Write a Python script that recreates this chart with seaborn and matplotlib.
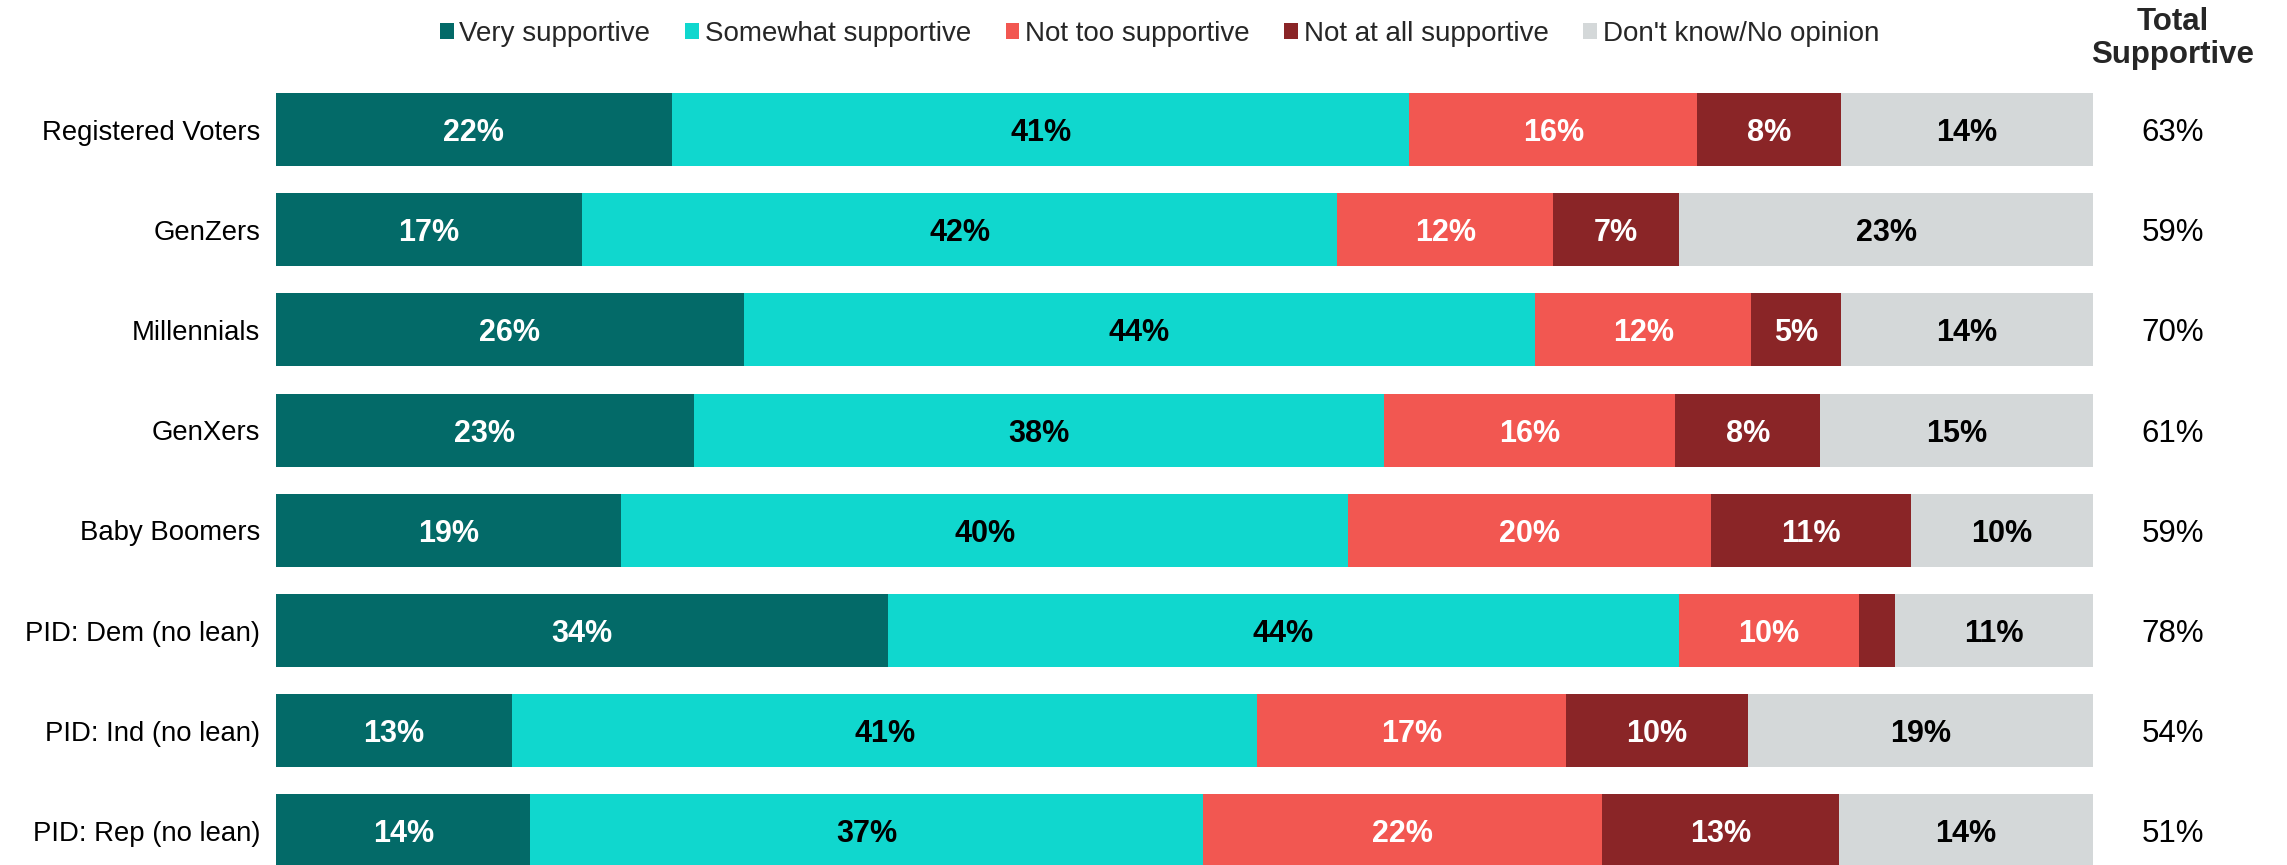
import numpy as np
import pandas as pd
import matplotlib
matplotlib.use("Agg")
import matplotlib.pyplot as plt
import seaborn as sns

categories = ["Registered Voters", "GenZers", "Millennials", "GenXers",
              "Baby Boomers", "PID: Dem (no lean)", "PID: Ind (no lean)",
              "PID: Rep (no lean)"]
series_names = ["Very supportive", "Somewhat supportive", "Not too supportive",
                "Not at all supportive", "Don't know/No opinion"]
very = [22, 17, 26, 23, 19, 34, 13, 14]
somewhat = [41, 42, 44, 38, 40, 44, 41, 37]
not_too = [16, 12, 12, 16, 20, 10, 17, 22]
not_at_all = [8, 7, 5, 8, 11, 2, 10, 13]
dont_know = [14, 23, 14, 15, 10, 11, 19, 14]
total_supportive = [63, 59, 70, 61, 59, 78, 54, 51]

colors = ["#036A68", "#10D7CE", "#F25751", "#8A2527", "#D4D8D9"]
label_colors = ["white", "black", "white", "white", "black"]

sns.set_theme(style="white")
plt.rcParams['font.family'] = ['Liberation Sans', 'DejaVu Sans']

W, H = 2287, 865
fig = plt.figure(figsize=(W / 100, H / 100), dpi=100)
ax_left, ax_right = 276 / W, 2093 / W
ax_top = 1 - 79.4 / H
ax = fig.add_axes([ax_left, 0.0, ax_right - ax_left, ax_top])

vals = np.array([very, somewhat, not_too, not_at_all, dont_know], dtype=float)
totals = vals.sum(axis=0)
norm = vals / totals * 100.0
cum = np.cumsum(norm, axis=0)

# draw cumulative bars from largest to smallest so they stack visually
for i in range(len(series_names) - 1, -1, -1):
    df = pd.DataFrame({"cat": categories, "val": cum[i]})
    sns.barplot(data=df, x="val", y="cat", orient="h", color=colors[i],
                width=0.73, saturation=1, linewidth=0, ax=ax,
                label=series_names[i])

handles, labels = ax.get_legend_handles_labels()
if ax.get_legend() is not None:
    ax.get_legend().remove()

# segment labels
for i in range(len(series_names)):
    for j in range(len(categories)):
        v = vals[i, j]
        if v < 4:
            continue
        xc = cum[i, j] - norm[i, j] / 2
        ax.text(xc, j, f"{int(v)}%", ha="center", va="center_baseline",
                color=label_colors[i], fontsize=22, fontweight="bold")

ax.set_xlim(0, 100)
ax.set_ylim(7.34, -0.5)
ax.set_xlabel("")
ax.set_ylabel("")
ax.set_xticks([])
for s in ax.spines.values():
    s.set_visible(False)
ax.tick_params(axis="y", length=0, pad=11.5, labelsize=19.8)
for t in ax.get_yticklabels():
    t.set_color("black")

# right-hand total column
for j, tv in enumerate(total_supportive):
    ax.text(1.0 + (2173 - 2093) / (2093 - 276), j, f"{tv}%",
            transform=ax.get_yaxis_transform(), ha="center",
            va="center_baseline", fontsize=22.5, color="black")
fig.text(2173 / W, 1 - 30 / H, "Total", ha="center", va="baseline",
         fontsize=22.5, fontweight="bold")
fig.text(2173 / W, 1 - 63 / H, "Supportive", ha="center", va="baseline",
         fontsize=22.5, fontweight="bold")

# legend
order = [labels.index(n) for n in series_names]
leg = fig.legend([handles[k] for k in order], [labels[k] for k in order],
                 loc="center left", bbox_to_anchor=(440 / W, 1 - 34 / H),
                 ncol=5, frameon=False, fontsize=20, handlelength=0.5,
                 handleheight=0.54, handletextpad=0.2, columnspacing=1.25,
                 borderpad=0, borderaxespad=0)

fig.savefig("out.png", dpi=100)
